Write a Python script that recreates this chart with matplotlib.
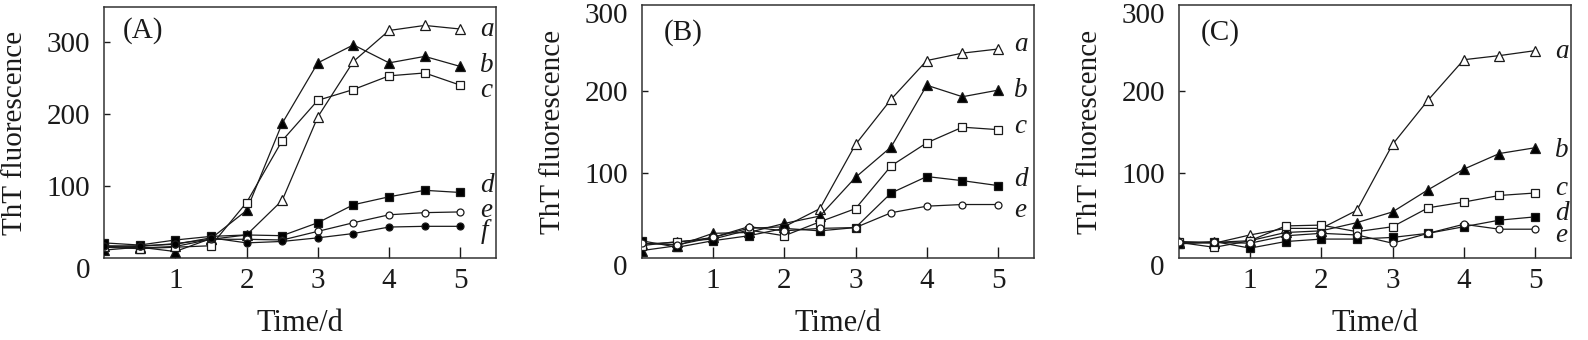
import matplotlib
matplotlib.use("Agg")
import matplotlib.pyplot as plt

plt.rcParams['font.family'] = ['Liberation Serif', 'DejaVu Serif']

time_d = [0, 0.5, 1, 1.5, 2, 2.5, 3, 3.5, 4, 4.5, 5]

# Panel A
A_a = [16, 14, 16, 26, 32, 80, 196, 273, 316, 323, 318]
A_b = [11, 15, 9, 27, 66, 187, 271, 296, 271, 280, 266]
A_c = [15, 13, 15, 17, 77, 163, 219, 234, 253, 257, 240]
A_d = [21, 18, 25, 30, 32, 31, 49, 74, 85, 94, 91]
A_e = [17, 16, 20, 26, 26, 25, 37, 49, 60, 63, 64]
A_f = [16, 17, 19, 28, 21, 23, 28, 34, 43, 44, 44]

# Panel B
B_a = [14, 16, 22, 33, 35, 57, 135, 190, 237, 246, 251]
B_b = [6, 12, 27, 28, 39, 48, 95, 132, 207, 193, 201]
B_c = [12, 17, 20, 31, 24, 41, 57, 109, 137, 156, 153]
B_d = [18, 10, 18, 24, 33, 30, 34, 76, 96, 91, 85]
B_e = [15, 13, 22, 35, 30, 33, 34, 52, 60, 62, 62]

# Panel C
C_a = [16, 15, 25, 33, 33, 55, 135, 189, 238, 243, 249]
C_b = [15, 16, 18, 28, 30, 40, 53, 80, 105, 124, 131]
C_c = [16, 10, 18, 36, 37, 29, 35, 58, 65, 73, 76]
C_d = [14, 17, 9, 17, 20, 20, 22, 27, 35, 43, 47]
C_e = [17, 16, 15, 24, 27, 25, 15, 27, 38, 32, 32]

panel_titles = ['(A)', '(B)', '(C)']
series_names = ['a', 'b', 'c', 'd', 'e', 'f']
x_ticks = [1, 2, 3, 4, 5]
y_ticks = [100, 200, 300]
y_tick_labels = ['100', '200', '300']

# label y-positions (data units) for curve names
A_lab_y = [317, 268, 233, 101, 66, 37]
B_lab_y = [256, 200, 157, 92, 55]
C_lab_y = [248, 128, 82, 51, 24]

styles = {
    'a': dict(marker='^', mfc='white'),
    'b': dict(marker='^', mfc='black'),
    'c': dict(marker='s', mfc='white'),
    'd': dict(marker='s', mfc='black'),
    'e': dict(marker='o', mfc='white'),
    'f': dict(marker='o', mfc='black'),
}
msize = {'^': 6.8, 's': 6.0, 'o': 5.0}

panels = [
    ([A_a, A_b, A_c, A_d, A_e, A_f], A_lab_y, (0, 348.6), 5.28),
    ([B_a, B_b, B_c, B_d, B_e], B_lab_y, (-3, 304.5), 5.22),
    ([C_a, C_b, C_c, C_d, C_e], C_lab_y, (-3, 304.5), 5.28),
]

TXT = '#1a1a1a'
fig = plt.figure(figsize=(15.88, 3.40), dpi=100)
lefts = [104 / 1588, 641.7 / 1588, 1178.7 / 1588]
bottom = (340 - 258) / 340
heights = [251 / 340, 253 / 340, 253 / 340]
width = 392 / 1588

for i, (series, lab_y, ylim, lab_x) in enumerate(panels):
    ax = fig.add_axes([lefts[i], bottom, width, heights[i]])
    for j, ys in enumerate(series):
        name = series_names[j]
        st = styles[name]
        ax.plot(time_d, ys, color=TXT, lw=0.9, marker=st['marker'],
                mfc=st['mfc'], mec=TXT, mew=0.9,
                ms=msize[st['marker']], zorder=3)
        ax.text(lab_x, lab_y[j], name, fontsize=19.5, fontstyle='italic',
                ha='left', va='center', color=TXT)
    ax.set_xlim(0, 5.5)
    ax.set_ylim(*ylim)
    ax.set_xticks(x_ticks)
    if i == 0:
        ax.set_yticks(y_ticks)
        ax.set_yticklabels(y_tick_labels)
    else:
        ax.set_yticks(y_ticks[:2])
        ax.set_yticklabels(y_tick_labels[:2])
        ax.annotate(y_tick_labels[2], xy=(0, 300), xycoords=('axes fraction', 'data'),
                    xytext=(-10, -5), textcoords='offset points', fontsize=21,
                    ha='right', va='center', color=TXT)
    ax.tick_params(direction='in', width=1.0, labelsize=21, colors=TXT)
    ax.tick_params(axis='x', pad=7, length=8)
    ax.tick_params(axis='y', pad=10, length=4)
    for sp in ax.spines.values():
        sp.set_linewidth(1.1)
        sp.set_color('#333333')
    ax.annotate('0', xy=(0, 0), xycoords=('axes fraction', 'data'),
                xytext=(-10, -9), textcoords='offset points', fontsize=21,
                ha='right', va='center', color=TXT)
    ax.set_ylabel('ThT fluorescence', fontsize=21, color=TXT)
    ax.yaxis.label.set_va('center')
    ax.yaxis.set_label_coords(-0.226, 0.5)
    ax.set_xlabel('Time/d', fontsize=22, color=TXT)
    ax.xaxis.label.set_va('center')
    ax.xaxis.set_label_coords(0.5, -0.26)
    ax.text(0.1 if i == 0 else 0.107, 0.905 if i == 0 else 0.893,
            panel_titles[i], transform=ax.transAxes, fontsize=21,
            ha='center', va='center', color=TXT)

fig.savefig('out.png', dpi=100)
